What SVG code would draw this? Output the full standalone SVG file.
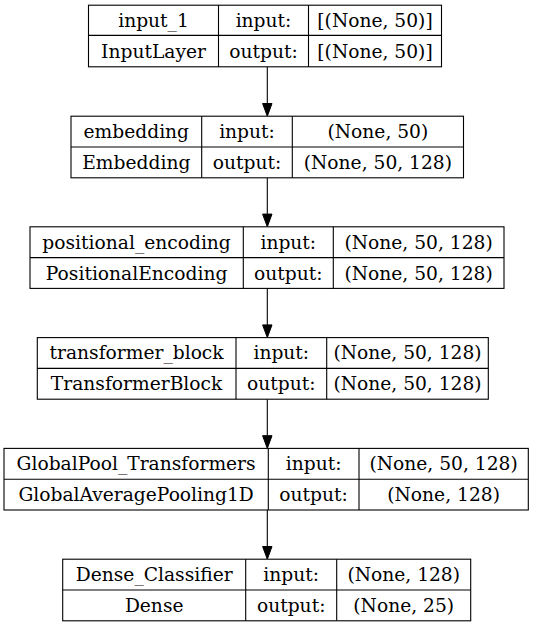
<svg xmlns="http://www.w3.org/2000/svg" width="535" height="627" viewBox="0 0 535 627">
<style>
.box{fill:#fff;stroke:#000;stroke-width:1.1}
.ln{stroke:#000;stroke-width:1.1;fill:none}
text{font-family:"DejaVu Serif",serif;font-size:18.67px;text-anchor:middle;fill:#000}
.edge{stroke:#000;stroke-width:1.1;fill:none}
.head{fill:#000;stroke:#000;stroke-width:1}
</style>
<rect width="535" height="627" fill="#fff"/>
<g id="connectors">
<line class="edge" x1="267.3" y1="66.8" x2="267.3" y2="103.5"/>
<polygon class="head" points="262.6,103.5 272,103.5 267.3,116.2"/>
<line class="edge" x1="267.3" y1="177.8" x2="267.3" y2="214.1"/>
<polygon class="head" points="262.6,214.1 272,214.1 267.3,226.8"/>
<line class="edge" x1="267.3" y1="288.4" x2="267.3" y2="324.9"/>
<polygon class="head" points="262.6,324.9 272,324.9 267.3,337.6"/>
<line class="edge" x1="267.3" y1="399.2" x2="267.3" y2="435.7"/>
<polygon class="head" points="262.6,435.7 272,435.7 267.3,448.4"/>
<line class="edge" x1="267.3" y1="510" x2="267.3" y2="546.5"/>
<polygon class="head" points="262.6,546.5 272,546.5 267.3,559.2"/>
</g>
<g id="node-input_1">
<rect class="box" x="88.5" y="5.2" width="353" height="61.6"/>
<line class="ln" x1="88.5" y1="35.4" x2="441.5" y2="35.4"/>
<line class="ln" x1="218.5" y1="5.2" x2="218.5" y2="66.8"/>
<line class="ln" x1="308.5" y1="5.2" x2="308.5" y2="66.8"/>
<text x="153.5" y="27">input_1</text>
<text x="153.5" y="58">InputLayer</text>
<text x="263.5" y="27">input:</text>
<text x="263.5" y="58">output:</text>
<text x="375" y="27">[(None, 50)]</text>
<text x="375" y="58">[(None, 50)]</text>
</g>
<g id="node-embedding">
<rect class="box" x="71" y="116.2" width="392.5" height="61.6"/>
<line class="ln" x1="71" y1="147" x2="463.5" y2="147"/>
<line class="ln" x1="201.7" y1="116.2" x2="201.7" y2="177.8"/>
<line class="ln" x1="292.3" y1="116.2" x2="292.3" y2="177.8"/>
<text x="136.3" y="138">embedding</text>
<text x="136.3" y="169">Embedding</text>
<text x="247" y="138">input:</text>
<text x="247" y="169">output:</text>
<text x="377.9" y="138">(None, 50)</text>
<text x="377.9" y="169">(None, 50, 128)</text>
</g>
<g id="node-positional_encoding">
<rect class="box" x="30" y="226.8" width="474" height="61.6"/>
<line class="ln" x1="30" y1="257.6" x2="504" y2="257.6"/>
<line class="ln" x1="243.3" y1="226.8" x2="243.3" y2="288.4"/>
<line class="ln" x1="333.3" y1="226.8" x2="333.3" y2="288.4"/>
<text x="136.6" y="248.6">positional_encoding</text>
<text x="136.6" y="279.6">PositionalEncoding</text>
<text x="288.3" y="248.6">input:</text>
<text x="288.3" y="279.6">output:</text>
<text x="418.6" y="248.6">(None, 50, 128)</text>
<text x="418.6" y="279.6">(None, 50, 128)</text>
</g>
<g id="node-transformer_block">
<rect class="box" x="37.3" y="337.6" width="451" height="61.6"/>
<line class="ln" x1="37.3" y1="368.4" x2="488.3" y2="368.4"/>
<line class="ln" x1="236" y1="337.6" x2="236" y2="399.2"/>
<line class="ln" x1="326.7" y1="337.6" x2="326.7" y2="399.2"/>
<text x="136.6" y="359.4">transformer_block</text>
<text x="136.6" y="390.4">TransformerBlock</text>
<text x="281.3" y="359.4">input:</text>
<text x="281.3" y="390.4">output:</text>
<text x="407.5" y="359.4">(None, 50, 128)</text>
<text x="407.5" y="390.4">(None, 50, 128)</text>
</g>
<g id="node-GlobalPool_Transformers">
<rect class="box" x="4" y="448.4" width="524.3" height="61.6"/>
<line class="ln" x1="4" y1="479.2" x2="528.3" y2="479.2"/>
<line class="ln" x1="268.3" y1="448.4" x2="268.3" y2="510"/>
<line class="ln" x1="359" y1="448.4" x2="359" y2="510"/>
<text x="136.1" y="470.2">GlobalPool_Transformers</text>
<text x="136.1" y="501.2">GlobalAveragePooling1D</text>
<text x="313.6" y="470.2">input:</text>
<text x="313.6" y="501.2">output:</text>
<text x="443.6" y="470.2">(None, 50, 128)</text>
<text x="443.6" y="501.2">(None, 128)</text>
</g>
<g id="node-Dense_Classifier">
<rect class="box" x="62.7" y="559.2" width="408" height="61.6"/>
<line class="ln" x1="62.7" y1="590" x2="470.7" y2="590"/>
<line class="ln" x1="245.7" y1="559.2" x2="245.7" y2="620.8"/>
<line class="ln" x1="336.7" y1="559.2" x2="336.7" y2="620.8"/>
<text x="154.2" y="581">Dense_Classifier</text>
<text x="154.2" y="612">Dense</text>
<text x="291.2" y="581">input:</text>
<text x="291.2" y="612">output:</text>
<text x="403.7" y="581">(None, 128)</text>
<text x="403.7" y="612">(None, 25)</text>
</g>
</svg>
